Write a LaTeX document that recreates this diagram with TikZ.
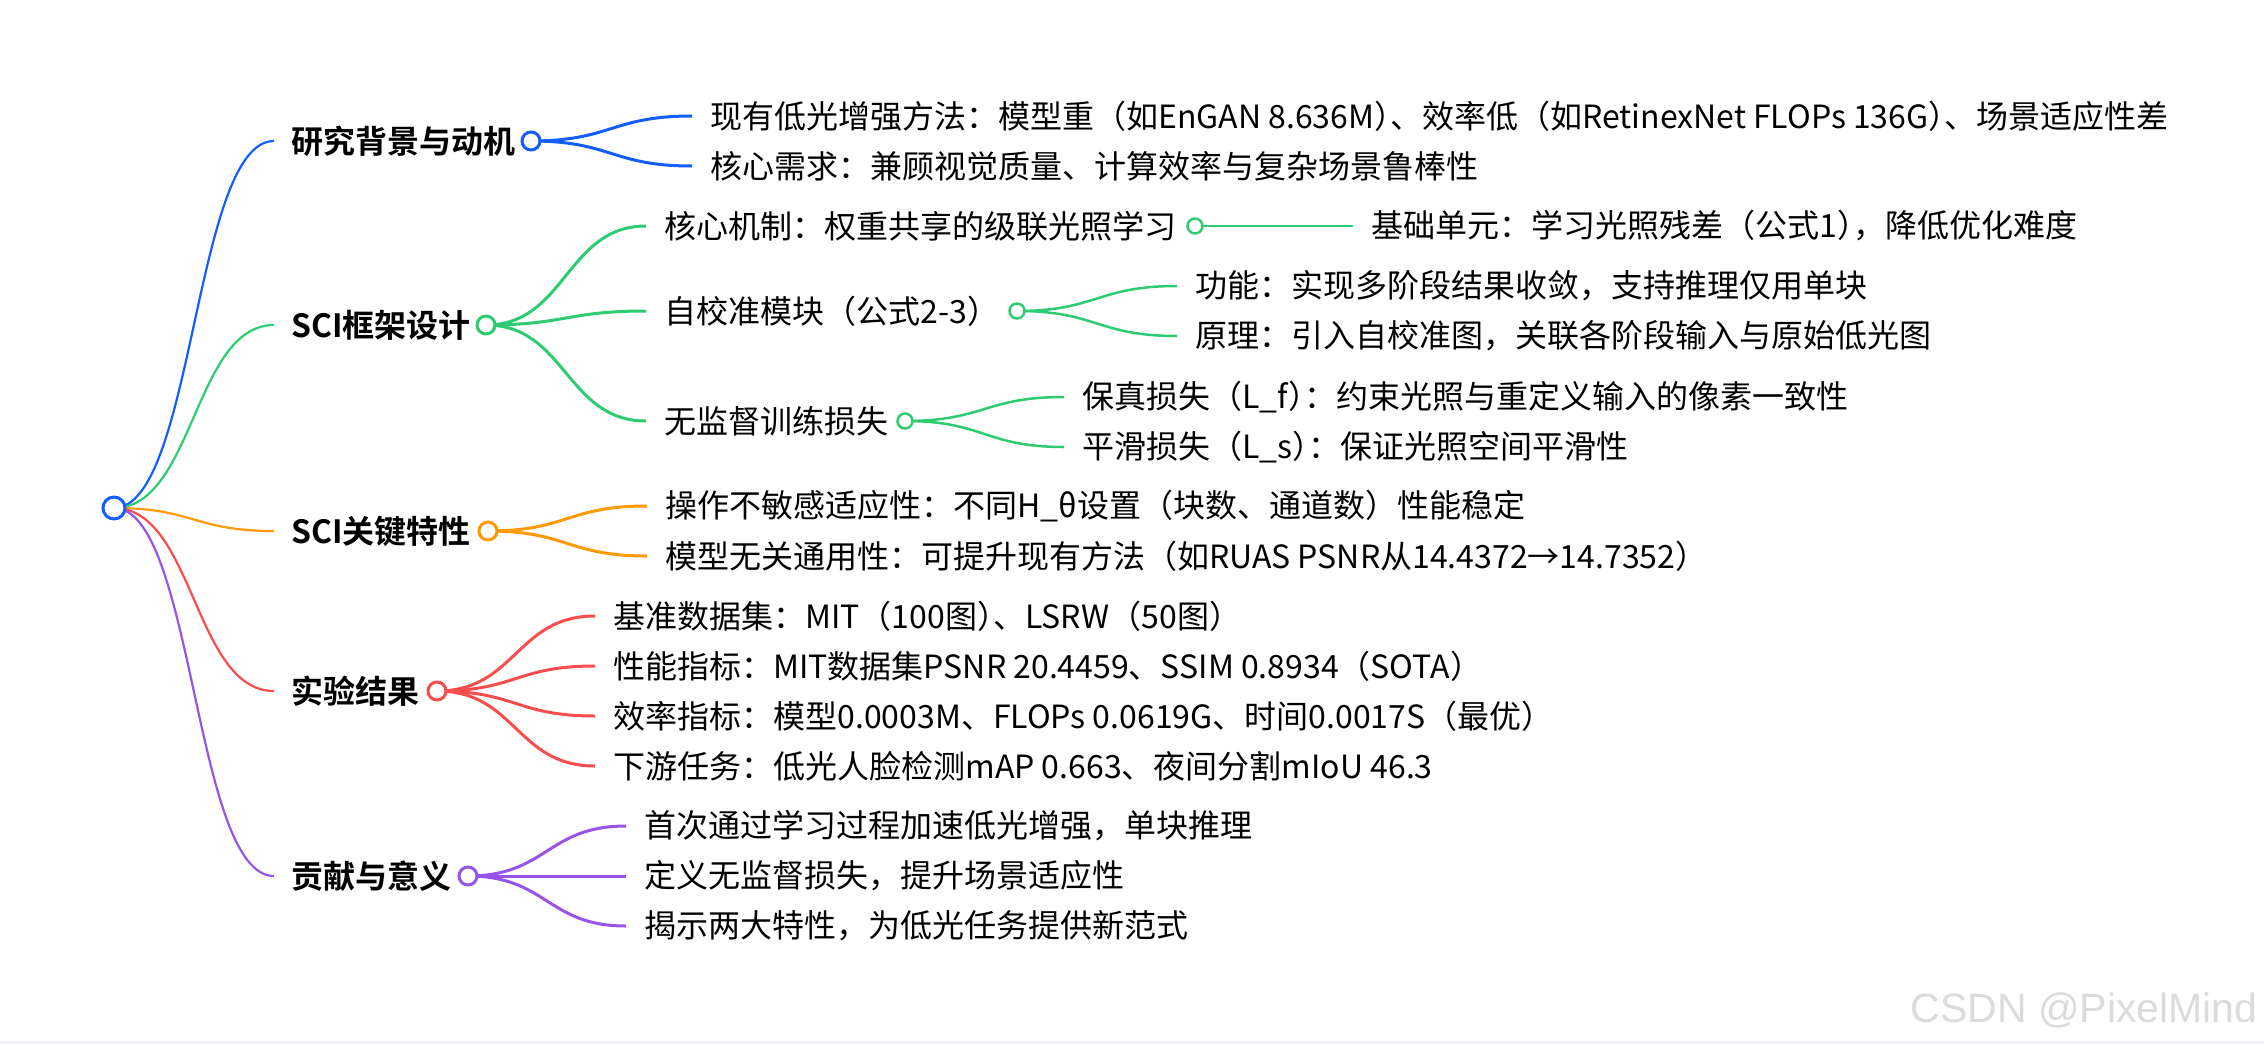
\documentclass[tikz,border=0pt]{standalone}
\usepackage{fontspec}
\setmainfont{Noto Sans CJK SC}[BoldFont={Noto Sans CJK SC Bold}]
\newfontfamily\markfont{Liberation Sans}
\usetikzlibrary{calc,backgrounds}
\definecolor{mapBlue}{RGB}{18,94,255}
\definecolor{mapGreen}{RGB}{46,204,113}
\definecolor{mapOrange}{RGB}{255,153,0}
\definecolor{mapRed}{RGB}{248,77,77}
\definecolor{mapPurple}{RGB}{152,84,232}
\definecolor{stripGray}{RGB}{242,243,250}

% curved link, control points halfway in x
\newcommand{\mapbranch}[3]{\draw[#1] let \p1=(#2), \p2=(#3) in (\p1) .. controls ({(\x1+\x2)/2},\y1) and ({(\x1+\x2)/2},\y2) .. (\p2);}
% squeeze a closing paren before more punctuation
\newcommand{\cpunct}{\kern-0.5em}

\begin{document}
\begin{tikzpicture}[
    x=0.5pt, y=-0.5pt,
    root/.style={circle, draw=mapBlue, fill=white, line width=1.5pt, minimum size=11pt, inner sep=0pt},
    dot/.style={circle, fill=white, line width=1.5pt, minimum size=9pt, inner sep=0pt},
    subdot/.style={circle, fill=white, line width=1.25pt, minimum size=7.5pt, inner sep=0pt},
    topic/.style={anchor=west, inner xsep=8.5pt, font=\fontsize{16}{19}\selectfont\bfseries},
    leaf/.style={anchor=west, inner xsep=9pt, font=\fontsize{16}{19}\selectfont},
    link/.style={line width=1.1pt},
    sublink/.style={line width=1.5pt},
    leaflink/.style={line width=1.25pt}
]
\useasboundingbox (0,0) rectangle (2264,1044);
\fill[stripGray] (0,1041) rectangle (2264,1044);

% Root
\node[root] (root) at (114,508) {};

% Main Topics
\node[topic] (bg)      at (274,141) {研究背景与动机};
\node[topic] (sci)     at (274,325) {SCI框架设计};
\node[topic] (feat)    at (274,531) {SCI关键特性};
\node[topic] (exp)     at (274,691) {实验结果};
\node[topic] (contrib) at (274,876) {贡献与意义};

\node[dot, draw=mapBlue]   (bgDot)      at (531,141) {};
\node[dot, draw=mapGreen]  (sciDot)     at (486,325) {};
\node[dot, draw=mapOrange] (featDot)    at (488,531) {};
\node[dot, draw=mapRed]    (expDot)     at (437,691) {};
\node[dot, draw=mapPurple] (contribDot) at (468,876) {};

% Background
\node[leaf] (bgMethods) at (692,116) {现有低光增强方法：模型重（如EnGAN 8.636M）\cpunct、效率低（如RetinexNet FLOPs 136G）\cpunct、场景适应性差};
\node[leaf] (bgNeeds)   at (692,166) {核心需求：兼顾视觉质量、计算效率与复杂场景鲁棒性};

% Framework Design
\node[leaf] (sciCore)  at (646,226) {核心机制：权重共享的级联光照学习};
\node[leaf] (sciCalib) at (646,311) {自校准模块（公式2-3）};
\node[leaf] (sciLoss)  at (646,421) {无监督训练损失};

\node[subdot, draw=mapGreen] (sciCoreDot)  at (1195,226) {};
\node[subdot, draw=mapGreen] (sciCalibDot) at (1017,311) {};
\node[subdot, draw=mapGreen] (sciLossDot)  at (905,421) {};

\node[leaf] (coreUnit)   at (1353,226) {基础单元：学习光照残差（公式1）\cpunct，降低优化难度};
\node[leaf] (calibFunc)  at (1177,286) {功能：实现多阶段结果收敛，支持推理仅用单块};
\node[leaf] (calibPrin)  at (1177,336) {原理：引入自校准图，关联各阶段输入与原始低光图};
\node[leaf] (lossFid)    at (1064,397) {保真损失（L\_f）\cpunct：约束光照与重定义输入的像素一致性};
\node[leaf] (lossSmooth) at (1064,447) {平滑损失（L\_s）\cpunct：保证光照空间平滑性};

% Key Features
\node[leaf] (featOp)  at (647,506) {操作不敏感适应性：不同H\_θ设置（块数、通道数）性能稳定};
\node[leaf] (featGen) at (647,556) {模型无关通用性：可提升现有方法（如RUAS PSNR从14.4372→14.7352）};

% Results
\node[leaf] (expData) at (595,616) {基准数据集：MIT（100图）\cpunct、LSRW（50图）};
\node[leaf] (expPerf) at (595,666) {性能指标：MIT数据集PSNR 20.4459、SSIM 0.8934（SOTA）};
\node[leaf] (expEff)  at (595,716) {效率指标：模型0.0003M、FLOPs 0.0619G、时间0.0017S（最优）};
\node[leaf] (expTask) at (595,766) {下游任务：低光人脸检测mAP 0.663、夜间分割mIoU 46.3};

% Contributions
\node[leaf] (conFirst) at (626,826) {首次通过学习过程加速低光增强，单块推理};
\node[leaf] (conLoss)  at (626,876) {定义无监督损失，提升场景适应性};
\node[leaf] (conParad) at (626,926) {揭示两大特性，为低光任务提供新范式};

% Watermark
\node[font=\markfont\fontsize{20.5}{24}\selectfont, text=black!14, anchor=base east, inner sep=0pt] (mark) at (2258,1022) {CSDN @PixelMind};

\begin{pgfonlayer}{background}
% Root to Topics
\mapbranch{link, mapBlue}{root}{bg.west}
\mapbranch{link, mapGreen}{root}{sci.west}
\mapbranch{link, mapOrange}{root}{feat.west}
\mapbranch{link, mapRed}{root}{exp.west}
\mapbranch{link, mapPurple}{root}{contrib.west}

% Topics to Details
\mapbranch{sublink, mapBlue}{bgDot}{bgMethods.west}
\mapbranch{sublink, mapBlue}{bgDot}{bgNeeds.west}
\mapbranch{sublink, mapGreen}{sciDot}{sciCore.west}
\mapbranch{sublink, mapGreen}{sciDot}{sciCalib.west}
\mapbranch{sublink, mapGreen}{sciDot}{sciLoss.west}
\mapbranch{sublink, mapOrange}{featDot}{featOp.west}
\mapbranch{sublink, mapOrange}{featDot}{featGen.west}
\mapbranch{sublink, mapRed}{expDot}{expData.west}
\mapbranch{sublink, mapRed}{expDot}{expPerf.west}
\mapbranch{sublink, mapRed}{expDot}{expEff.west}
\mapbranch{sublink, mapRed}{expDot}{expTask.west}
\mapbranch{sublink, mapPurple}{contribDot}{conFirst.west}
\mapbranch{sublink, mapPurple}{contribDot}{conLoss.west}
\mapbranch{sublink, mapPurple}{contribDot}{conParad.west}

% Framework sub-items
\mapbranch{leaflink, mapGreen}{sciCoreDot}{coreUnit.west}
\mapbranch{leaflink, mapGreen}{sciCalibDot}{calibFunc.west}
\mapbranch{leaflink, mapGreen}{sciCalibDot}{calibPrin.west}
\mapbranch{leaflink, mapGreen}{sciLossDot}{lossFid.west}
\mapbranch{leaflink, mapGreen}{sciLossDot}{lossSmooth.west}
\end{pgfonlayer}

\end{tikzpicture}
\end{document}
